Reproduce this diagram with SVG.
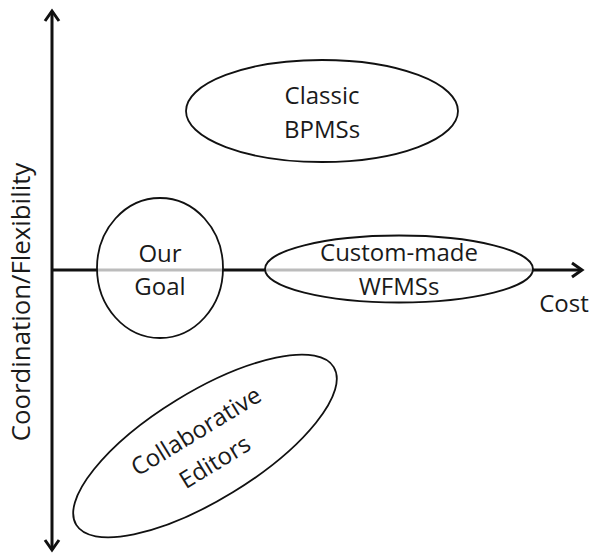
<svg xmlns="http://www.w3.org/2000/svg" width="593" height="553" viewBox="0 0 593 553">
<style>
.ax{stroke:#111;stroke-width:3;fill:none}
.nd{fill:#fff;fill-opacity:0.72;stroke:#111;stroke-width:1.8}
.t{font-family:"Open Sans","Liberation Sans",sans-serif;font-size:24px;fill:#1a1a1a;text-anchor:middle}
</style>
<defs>
<marker id="arr" markerUnits="userSpaceOnUse" markerWidth="14" markerHeight="18" refX="11" refY="8" orient="auto-start-reverse" viewBox="0 0 14 16">
<path d="M1,1 L11,8 L1,15" fill="none" stroke="#111" stroke-width="3"/>
</marker>
</defs>
<rect width="593" height="553" fill="#fff"/>
<g id="connectors">
<line class="ax" x1="52" y1="550" x2="52" y2="11" marker-start="url(#arr)" marker-end="url(#arr)"/>
<line class="ax" x1="51" y1="270" x2="582" y2="270" marker-end="url(#arr)"/>
</g>
<g id="axis-labels">
<text class="t" style="font-size:25.8px" transform="translate(30,302) rotate(-90)">Coordination/Flexibility</text>
<text class="t" x="564" y="312">Cost</text>
</g>
<g id="classic">
<ellipse class="nd" cx="322" cy="111" rx="136" ry="51"/>
<text class="t" x="322" y="104">Classic</text>
<text class="t" x="322" y="138">BPMSs</text>
</g>
<g id="ourgoal">
<ellipse class="nd" cx="160" cy="268" rx="63" ry="70"/>
<text class="t" x="160" y="262">Our</text>
<text class="t" x="160" y="295">Goal</text>
</g>
<g id="custom">
<ellipse class="nd" cx="399" cy="269" rx="134" ry="33.5"/>
<text class="t" x="399" y="261">Custom-made</text>
<text class="t" x="399" y="295">WFMSs</text>
</g>
<g id="collab" transform="translate(205,446) rotate(-31.5)">
<ellipse class="nd" cx="0" cy="0" rx="151" ry="54"/>
<text class="t" x="0" y="-9">Collaborative</text>
<text class="t" x="0" y="27">Editors</text>
</g>
</svg>
